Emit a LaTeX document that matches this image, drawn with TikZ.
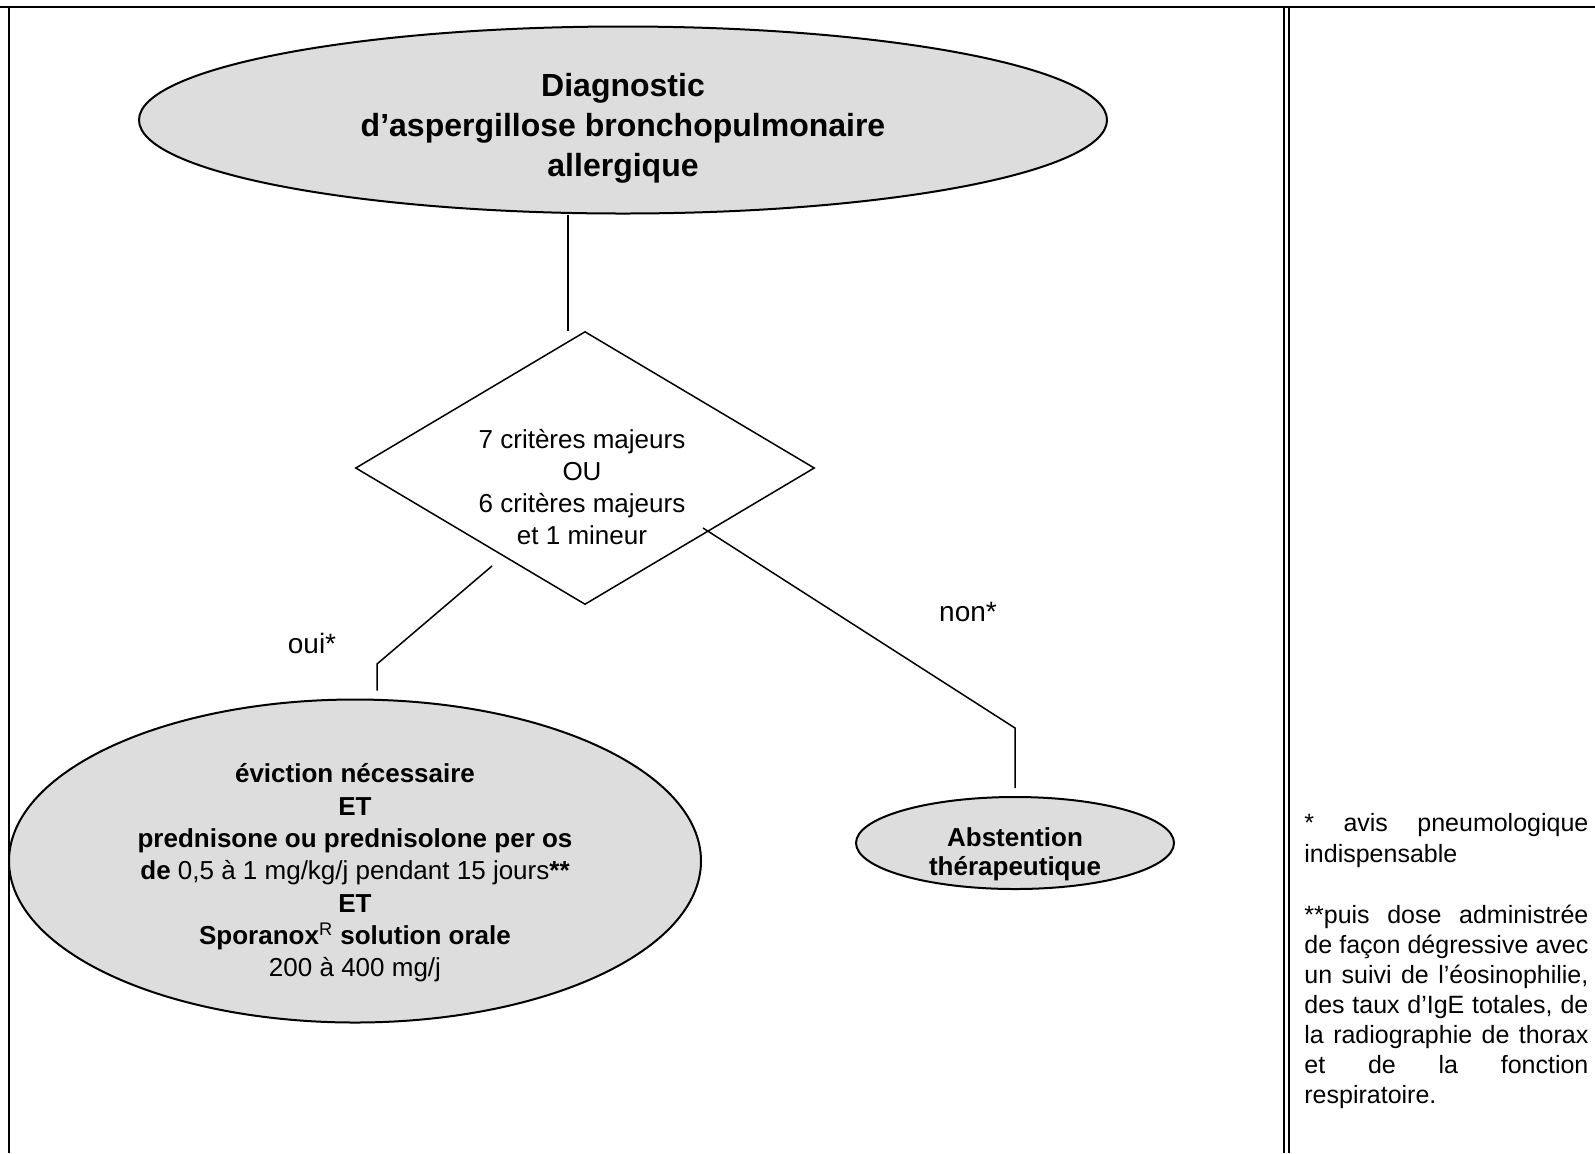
\documentclass[tikz,border=0pt]{standalone}
\usepackage{fontspec}
\setmainfont{Liberation Sans}
\usetikzlibrary{shapes.geometric}
\definecolor{grisbulle}{gray}{0.867}
\tikzset{
  bulle/.style={ellipse,draw,line width=1pt,fill=grisbulle,inner sep=0pt},
  critere/.style={diamond,draw,line width=0.75pt,inner sep=0pt,minimum width=229.5pt,minimum height=136.5pt},
  texte/.style={align=center,inner sep=0pt},
  trait/.style={line width=0.75pt},
  bord/.style={line width=1pt},
  note/.style={anchor=north west,inner sep=0pt,align=left}
}

\begin{document}
\begin{tikzpicture}[x=0.5pt,y=-0.5pt]
\useasboundingbox (0,0) rectangle (1595,1153);
\draw[bord] (0,7) -- (1595,7);
\draw[line width=1.25pt] (9,7) -- (9,1153);
\draw[bord] (1284,7) -- (1284,1153);
\draw[bord] (1288.5,7) -- (1288.5,1153);

\coordinate (A) at (568,215);
\coordinate (B) at (492,566);
\coordinate (C) at (377,664);
\coordinate (D) at (703,528);
\coordinate (E) at (1015,728);

\node[bulle,minimum width=484pt,minimum height=93.5pt] (diag) at (623,120) {};
\node[texte,font=\bfseries\fontsize{16}{20}\selectfont] (diagtxt) at ([yshift=-4pt]diag.center) {Diagnostic\\d’aspergillose bronchopulmonaire\\allergique};
\node[critere] (crit) at (585,468) {};
\node[texte,font=\fontsize{13}{16.15}\selectfont] (crittxt) at ([xshift=-1.5pt,yshift=-9.5pt]crit.center) {7 critères majeurs\\OU\\6 critères majeurs\\et 1 mineur};
\node[bulle,minimum width=346pt,minimum height=161.5pt] (evic) at (355,861) {};
\node[texte,font=\fontsize{13}{16.15}\selectfont] (evictxt) at ([yshift=-6pt]evic.center) {\textbf{éviction nécessaire}\\\textbf{ET}\\\textbf{prednisone ou prednisolone per os}\\\textbf{de} 0,5 à 1 mg/kg/j pendant 15 jours\textbf{**}\\\textbf{ET}\\\textbf{Sporanox}\textsuperscript{R} \textbf{solution orale}\\200 à 400 mg/j};
\node[bulle,minimum width=159pt,minimum height=46pt] (abst) at (1015,843) {};
\node[texte,font=\bfseries\fontsize{13}{14.5}\selectfont] (absttxt) at ([yshift=-5.5pt]abst.center) {Abstention\\thérapeutique};

\draw[trait] (diag.south -| A) -- (A |- crit.north);
\draw[trait,shorten >=4pt] (B) -- (C) -- (C |- evic.north);
\draw[trait,shorten >=4pt] (D) -- (E) -- (E |- abst.north);

\node[font=\fontsize{14}{17}\selectfont] (oui) at (312,643) {oui*};
\node[font=\fontsize{14}{17}\selectfont] (non) at (968,612) {non*};

\node[note,font=\fontsize{12.5}{15.5}\selectfont] (avis) at (1304,813) {\makebox[142pt][s]{* avis pneumologique}\\indispensable};
\node[note,font=\fontsize{12.5}{15}\selectfont] (puis) at (1304,905) {\makebox[142pt][s]{**puis dose administrée}\\\makebox[142pt][s]{de façon dégressive avec}\\\makebox[142pt][s]{un suivi de l’éosinophilie,}\\\makebox[142pt][s]{des taux d’IgE totales, de}\\\makebox[142pt][s]{la radiographie de thorax}\\\makebox[142pt][s]{et de la fonction}\\respiratoire.};
\end{tikzpicture}
\end{document}
